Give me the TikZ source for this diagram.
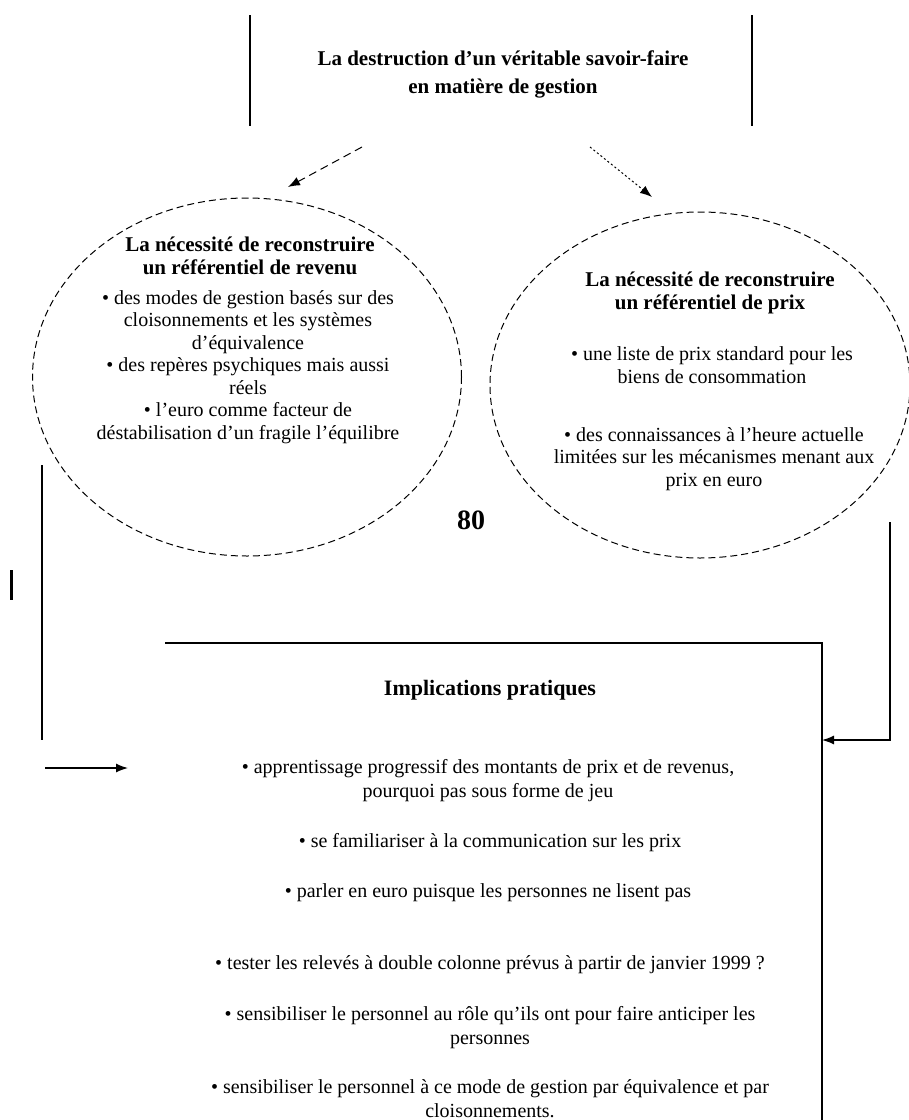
\documentclass[tikz,border=0pt]{standalone}
\usepackage{fontspec}
\setmainfont{Liberation Serif}
\usetikzlibrary{shapes.geometric,arrows.meta}
\begin{document}
\begin{tikzpicture}[x=1pt,y=-1pt,
  txt/.style={align=center,font=\fontsize{20}{22.5}\selectfont,inner sep=0pt},
  ttl/.style={align=center,font=\bfseries\fontsize{21}{23}\selectfont,inner sep=0pt},
  boxtxt/.style={align=center,font=\fontsize{20}{24}\selectfont,inner sep=0pt},
  headtxt/.style={align=center,font=\bfseries\fontsize{21}{28}\selectfont,inner sep=0pt},
  oval/.style={draw,ellipse,line width=1pt,dash pattern=on 7pt off 4pt,inner sep=0pt},
  frameline/.style={line width=1.8pt},
  link/.style={line width=1.3pt},
  tip/.style={-{Latex[length=12pt,width=9pt]}}]
\useasboundingbox (0,0) rectangle (909,1120);

% heading box: only its two sides are drawn
\node[headtxt] (head) at (503,74) {La destruction d'un véritable savoir-faire\\en matière de gestion};
\coordinate (headTL) at (250,15); \coordinate (headBL) at (250,126);
\coordinate (headTR) at (752,15); \coordinate (headBR) at (752,126);
\draw[frameline] (headTL) -- (headBL);
\draw[frameline] (headTR) -- (headBR);

% the two dashed ovals
\node[oval,minimum width=429pt,minimum height=358pt] (valeur) at (247,377) {};
\node[oval,minimum width=420pt,minimum height=346pt] (prix) at (700,385) {};

\node[ttl] (valeurT) at (250,256) {La nécessité de reconstruire\\un référentiel de revenu};
\node[txt] (valeurB) at (248,367) {• des modes de gestion basés sur des\\cloisonnements et les systèmes\\d'équivalence\\• des repères psychiques mais aussi\\réels\\• l'euro comme facteur de\\déstabilisation d'un fragile l'équilibre};

\node[ttl] (prixT) at (710,293) {La nécessité de reconstruire\\un référentiel de prix};
\node[txt] (prixB1) at (712,365) {• une liste de prix standard pour les\\biens de consommation};
\node[txt] (prixB2) at (714,459) {• des connaissances à l'heure actuelle\\limitées sur les mécanismes menant aux\\prix en euro};

% arrows from the heading to the ovals
\coordinate (aL0) at (362,147); \coordinate (aL1) at (288,187);
\coordinate (aR0) at (590,147); \coordinate (aR1) at (652,197);
\draw[link,tip,line width=1pt,dash pattern=on 8pt off 5pt] (aL0) -- (aL1);
\draw[link,tip,line width=1pt,dash pattern=on 2pt off 2.5pt] (aR0) -- (aR1);

% page number and margin mark
\node[font=\bfseries\fontsize{28}{28}\selectfont,inner sep=0pt] (folio) at (471,520) {80};
\coordinate (markA) at (11,570); \coordinate (markB) at (11,600);
\draw[line width=3pt] (markA) -- (markB);

% box of practical implications: top and right sides
\coordinate (boxTL) at (165,643); \coordinate (boxTR) at (822,643); \coordinate (boxBR) at (822,1122);
\draw[frameline] (boxTL) -- (boxTR) -- (boxBR);
\coordinate (boxIn) at (822,740);

\node[boxtxt,font=\bfseries\fontsize{22}{24}\selectfont] (implT) at (490,690) {Implications pratiques};
\node[boxtxt] (impl1) at (488,780.5) {• apprentissage progressif des montants de prix et de revenus,\\pourquoi pas sous forme de jeu};
\node[boxtxt] (impl2) at (490,843) {• se familiariser à la communication sur les prix};
\node[boxtxt] (impl3) at (488,893) {• parler en euro puisque les personnes ne lisent pas};
\node[boxtxt] (impl4) at (490,965) {• tester les relevés à double colonne prévus à partir de janvier 1999 ?};
\node[boxtxt] (impl5) at (490,1027.5) {• sensibiliser le personnel au rôle qu'ils ont pour faire anticiper les\\personnes};
\node[boxtxt] (impl6) at (490,1099) {• sensibiliser le personnel à ce mode de gestion par équivalence et par\\cloisonnements.};

% side connectors
\coordinate (lTop) at (42,465); \coordinate (lBot) at (42,740);
\draw[link] (lTop) -- (lBot);
\coordinate (lArr0) at (45,768); \coordinate (lArr1) at (128,768);
\draw[link,tip] (lArr0) -- (lArr1);

\coordinate (rTop) at (890,522); \coordinate (rBot) at (890,740);
\draw[link,tip] (rTop) -- (rBot) -- (boxIn);
\end{tikzpicture}
\end{document}
